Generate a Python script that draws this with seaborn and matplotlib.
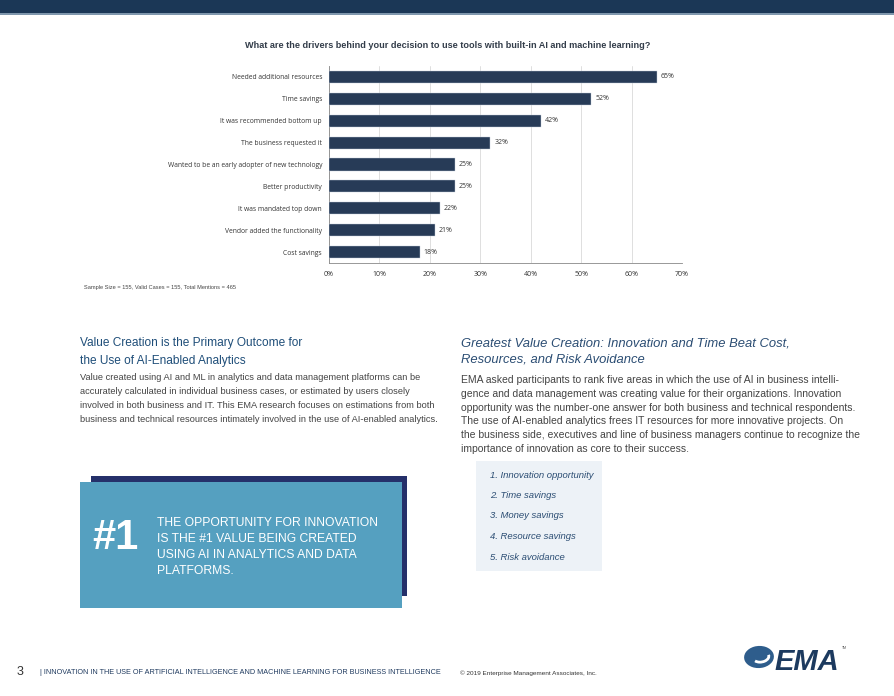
import matplotlib
matplotlib.use('Agg')
import matplotlib.pyplot as plt
import matplotlib.patches as patches
import seaborn as sns
import pandas as pd

# chart data
drivers = ['Needed additional resources', 'Time savings', 'It was recommended bottom up',
           'The business requested it', 'Wanted to be an early adopter of new technology',
           'Better productivity', 'It was mandated top down', 'Vendor added the functionality',
           'Cost savings']
shares = [65, 52, 42, 32, 25, 25, 22, 21, 18]
x_ticks = [0, 10, 20, 30, 40, 50, 60, 70]

value_list = ['1. Innovation opportunity', '2. Time savings', '3. Money savings',
              '4. Resource savings', '5. Risk avoidance']

df = pd.DataFrame({'driver': drivers, 'share': shares})

sns.set_style('white')
plt.rcParams['font.family'] = ['Open Sans', 'DejaVu Sans']
narrow = ['Liberation Sans', 'DejaVu Sans']

W, H = 895, 696
fig = plt.figure(figsize=(W / 100, H / 100), dpi=100)


def px(x, y):
    return x / W, 1 - y / H


def rect(x0, y0, x1, y1, color):
    fig.add_artist(patches.Rectangle((x0 / W, 1 - y1 / H), (x1 - x0) / W, (y1 - y0) / H,
                                     transform=fig.transFigure, facecolor=color,
                                     edgecolor='none', zorder=0))


# top band
rect(0, 0, W, 13, '#1b3756')
rect(0, 13, W, 15, '#7f97ad')

# bar chart
ax = fig.add_axes([329 / W, 1 - 263 / H, 353 / W, 197 / H])
sns.barplot(data=df, x='share', y='driver', color='#1f3a5f', width=0.55, ax=ax,
            edgecolor='#c4cedb', linewidth=0.3, zorder=3)
ax.set_xlim(0, 70)
ax.set_ylim(8.5, -0.5)
ax.set_xticks(x_ticks)
ax.set_xticklabels([f'{t}%' for t in x_ticks], fontsize=5, color='#333333')
ax.set_yticks([i - 0.5 for i in range(len(drivers) + 1)], minor=False)
ax.set_yticklabels([''] * (len(drivers) + 1))
ax.set_yticks(range(len(drivers)), minor=True)
ax.set_yticklabels(drivers, minor=True)
ax.tick_params(axis='y', which='major', length=3, color='#888888', direction='out')
ax.tick_params(axis='y', which='minor', length=0, labelsize=4.9, labelcolor='#333333', pad=5)
ax.tick_params(axis='x', length=3, color='#888888', direction='out', pad=3)
ax.xaxis.grid(True, color='#d9d9d9', linewidth=0.6, zorder=0)
ax.set_axisbelow(True)
ax.set_xlabel('')
ax.set_ylabel('')
for s in ['top', 'right']:
    ax.spines[s].set_visible(False)
for s in ['left', 'bottom']:
    ax.spines[s].set_color('#888888')
    ax.spines[s].set_linewidth(0.6)
for i, v in enumerate(shares):
    ax.text(v + 0.8, i, f'{v}%', va='center', ha='left', fontsize=5, color='#333333')

fig.text(*px(448, 46), 'What are the drivers behind your decision to use tools with built-in AI and machine learning?',
         ha='center', va='center', fontsize=6.6, fontweight='bold', color='#333d4a', family=narrow)
fig.text(*px(84, 288), 'Sample Size = 155, Valid Cases = 155, Total Mentions = 465',
         ha='left', va='center', fontsize=4.1, color='#444444', family=narrow)

# left column
head_col = '#1f4e79'
body_col = '#444444'
fig.text(*px(80, 343), 'Value Creation is the Primary Outcome for', fontsize=8.6, color=head_col,
         va='center', family=narrow)
fig.text(*px(80, 361), 'the Use of AI-Enabled Analytics', fontsize=8.6, color=head_col,
         va='center', family=narrow)
left_body = ['Value created using AI and ML in analytics and data management platforms can be',
             'accurately calculated in individual business cases, or estimated by users closely',
             'involved in both business and IT. This EMA research focuses on estimations from both',
             'business and technical resources intimately involved in the use of AI-enabled analytics.']
for k, line in enumerate(left_body):
    fig.text(*px(80, 377 + k * 14.3), line, fontsize=6.65, color=body_col, va='center', family=narrow)

# right column
fig.text(*px(461, 343), 'Greatest Value Creation: Innovation and Time Beat Cost,', fontsize=9.4,
         color='#2b4d73', va='center', style='italic', family=narrow)
fig.text(*px(461, 359), 'Resources, and Risk Avoidance', fontsize=9.4,
         color='#2b4d73', va='center', style='italic', family=narrow)
right_body = ['EMA asked participants to rank five areas in which the use of AI in business intelli-',
              'gence and data management was creating value for their organizations. Innovation',
              'opportunity was the number-one answer for both business and technical respondents.',
              'The use of AI-enabled analytics frees IT resources for more innovative projects. On',
              'the business side, executives and line of business managers continue to recognize the',
              'importance of innovation as core to their success.']
for k, line in enumerate(right_body):
    fig.text(*px(461, 380 + k * 13.8), line, fontsize=7.5, color=body_col, va='center', family=narrow)

# ranked list box
rect(476, 461, 602, 571, '#edf2f7')
for k, item in enumerate(value_list):
    fig.text(*px(490, 475 + k * 20.5), item, fontsize=6.8, color='#2b4d73', va='center',
             style='italic', family=narrow)

# callout box
rect(91, 476, 407, 596, '#25306a')
rect(80, 482, 402, 608, '#55a0c0')
fig.text(*px(92, 538), '#1', fontsize=30, fontweight='bold', color='white', va='center', family=narrow)
callout = ['THE OPPORTUNITY FOR INNOVATION', 'IS THE #1 VALUE BEING CREATED',
           'USING AI IN ANALYTICS AND DATA', 'PLATFORMS.']
for k, line in enumerate(callout):
    fig.text(*px(157, 523 + k * 16), line, fontsize=8.7, color='white', va='center', family=narrow)

# footer
fig.text(*px(17, 672), '3', fontsize=9, color='#333333', va='center', family=narrow)
fig.text(*px(40, 673), '| INNOVATION IN THE USE OF ARTIFICIAL INTELLIGENCE AND MACHINE LEARNING FOR BUSINESS INTELLIGENCE',
         fontsize=5.2, color='#1f3a5f', va='center', family=narrow)
fig.text(*px(460, 673), '\u00a9 2019 Enterprise Management Associates, Inc.', fontsize=4.6,
         color='#333333', va='center', family=narrow)
fig.add_artist(patches.Ellipse(px(759, 657), 30 / W, 22 / H, angle=20, transform=fig.transFigure,
                               facecolor='#2e5d8c', edgecolor='none'))
fig.add_artist(patches.Arc(px(761, 657), 16 / W, 10 / H, angle=20, theta1=200, theta2=360,
                           transform=fig.transFigure, color='white', linewidth=2))
fig.text(*px(807, 662), 'EMA', fontsize=21, fontweight='bold', style='italic', color='#1c3a5f',
         ha='center', va='center', family=narrow)
fig.text(*px(842, 648), 'TM', fontsize=2.5, color='#555555', va='center', family=narrow)

fig.savefig('out.png', dpi=100)
